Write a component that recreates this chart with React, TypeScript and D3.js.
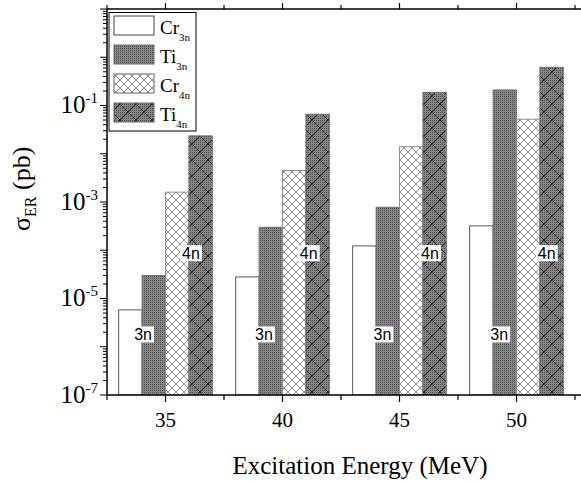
import React from 'react';
import * as d3 from 'd3';

// Excitation energies (MeV) and cross sections (pb) for each channel
const energies = [35, 40, 45, 50];
const cr3n = [5.8e-6, 2.8e-5, 1.23e-4, 3.2e-4];
const ti3n = [3.0e-5, 3.0e-4, 7.8e-4, 0.21];
const cr4n = [1.6e-3, 4.5e-3, 0.014, 0.052];
const ti4n = [0.0235, 0.066, 0.186, 0.62];

// annotation anchors (data units)
const label3nX = [34.04, 39.21, 44.27, 49.26];
const label4nX = [36.09, 41.12, 46.3, 51.29];
const label3nY = 1.8e-6;
const label4nY = 8.7e-5;

const xMajorTicks = [35, 40, 45, 50];
const xMinorTicks = [32.5, 37.5, 42.5, 47.5, 52.5];
const yLabelExps = [-7, -5, -3, -1];

const SERIES = [
  { key: 'cr3n', name: 'Cr', sub: '3n', values: cr3n, offset: -2, fill: '#ffffff', stroke: '#444' },
  { key: 'ti3n', name: 'Ti', sub: '3n', values: ti3n, offset: -1, fill: 'url(#tiDots)', stroke: '#6a6a6a' },
  { key: 'cr4n', name: 'Cr', sub: '4n', values: cr4n, offset: 0, fill: 'url(#crHatch)', stroke: '#888' },
  { key: 'ti4n', name: 'Ti', sub: '4n', values: ti4n, offset: 1, fill: 'url(#tiHatch)', stroke: '#6a6a6a' },
];

const W = 581;
const H = 482;
const margin = { left: 107, top: 9, bottom: 395 };

export default function App() {
  const x = d3.scaleLinear().domain([32.5, 53]).range([margin.left, margin.left + 20.5 * 23.4]);
  const y = d3.scaleLog().domain([1e-7, 10]).range([margin.bottom, margin.top]);

  const yTicks = y.ticks();
  const isMajor = (v: number) => Math.abs(Math.log10(v) - Math.round(Math.log10(v))) < 1e-6;
  const serif = '"Liberation Serif", "Times New Roman", Times, serif';
  const sans = '"Liberation Sans", Arial, Helvetica, sans-serif';

  return (
    <svg width={W} height={H} style={{ position: 'absolute', left: 0, top: 0, background: '#fff' }}>
      <defs>
        <pattern id="tiDots" width="2" height="2" patternUnits="userSpaceOnUse">
          <rect width="2" height="2" fill="#868686" />
          <rect width="1" height="1" fill="#4e4e4e" />
        </pattern>
        <pattern id="crHatch" width="8" height="8" patternUnits="userSpaceOnUse">
          <rect width="8" height="8" fill="#fff" />
          <path d="M-1,-1 L9,9 M9,-1 L-1,9" stroke="#858585" strokeWidth="0.9" />
        </pattern>
        <pattern id="tiHatch" width="16" height="16" patternUnits="userSpaceOnUse">
          <rect width="16" height="16" fill="url(#tiDots)" />
          <path d="M-1,-1 L17,17 M17,-1 L-1,17" stroke="#111" strokeWidth="0.9" />
        </pattern>
        <clipPath id="plotClip">
          <rect x={margin.left} y={margin.top} width={W} height={margin.bottom - margin.top} />
        </clipPath>
      </defs>

      {/* bars */}
      <g clipPath="url(#plotClip)">
        {SERIES.map(s =>
          s.values.map((v, i) => {
            const x0 = x(energies[i] + s.offset);
            const x1 = x(energies[i] + s.offset + 1);
            return (
              <rect
                key={s.key + i}
                x={x0}
                y={y(v)}
                width={x1 - x0}
                height={y(1e-7) - y(v)}
                fill={s.fill}
                stroke={s.stroke}
                strokeWidth={0.9}
              />
            );
          })
        )}
      </g>

      {/* 3n / 4n labels */}
      {energies.map((e, i) => (
        <g key={'lab' + e} fontFamily={sans} fontSize={16}>
          <rect x={x(label3nX[i]) - 11} y={y(label3nY) - 8} width={22} height={16} fill="#fff" />
          <text x={x(label3nX[i])} y={y(label3nY) + 6} textAnchor="middle">3n</text>
          <rect x={x(label4nX[i]) - 11} y={y(label4nY) - 8} width={22} height={16} fill="#fff" />
          <text x={x(label4nX[i])} y={y(label4nY) + 6} textAnchor="middle">4n</text>
        </g>
      ))}

      {/* frame */}
      <line x1={margin.left} x2={W} y1={margin.top} y2={margin.top} stroke="#000" strokeWidth={1.5} />
      <line x1={margin.left} x2={W} y1={margin.bottom} y2={margin.bottom} stroke="#000" strokeWidth={1.5} />
      <line x1={margin.left} x2={margin.left} y1={margin.top} y2={margin.bottom} stroke="#000" strokeWidth={1.5} />

      {/* x ticks */}
      {xMajorTicks.map(t => (
        <g key={'xM' + t}>
          <line x1={x(t)} x2={x(t)} y1={margin.bottom} y2={margin.bottom + 7} stroke="#000" strokeWidth={1.2} />
          <line x1={x(t)} x2={x(t)} y1={margin.top} y2={margin.top - 6} stroke="#000" strokeWidth={1.2} />
          <text x={x(t)} y={427} textAnchor="middle" fontFamily={serif} fontSize={21}>{t}</text>
        </g>
      ))}
      {xMinorTicks.map(t => (
        <g key={'xm' + t}>
          <line x1={x(t)} x2={x(t)} y1={margin.bottom} y2={margin.bottom + 5} stroke="#000" strokeWidth={1.2} />
          <line x1={x(t)} x2={x(t)} y1={margin.top} y2={margin.top - 4} stroke="#000" strokeWidth={1.2} />
        </g>
      ))}

      {/* y ticks */}
      {yTicks.map((t, i) => (
        <line
          key={'y' + i}
          x1={margin.left}
          x2={margin.left - (isMajor(t) ? 7 : 4)}
          y1={y(t)}
          y2={y(t)}
          stroke="#000"
          strokeWidth={1}
        />
      ))}
      {yLabelExps.map(e => (
        <text key={'yl' + e} x={98} y={y(Math.pow(10, e)) + 7.5} textAnchor="end" fontFamily={serif} fontSize={25}>
          10<tspan dy={-10} fontSize={15}>{e < 0 ? '-' + Math.abs(e) : e}</tspan>
        </text>
      ))}

      {/* axis titles */}
      <text x={360} y={474} textAnchor="middle" fontFamily={serif} fontSize={25}>
        Excitation Energy (MeV)
      </text>
      <text transform="translate(30,231) rotate(-90)" fontFamily={serif} fontSize={26}>
        σ<tspan dy={6} fontSize={16}>ER</tspan><tspan dy={-6}> (pb)</tspan>
      </text>

      {/* legend */}
      <g>
        <rect x={109} y={12.5} width={87} height={118.5} fill="#fff" stroke="#000" strokeWidth={1} />
        {SERIES.map((s, i) => {
          const cy = 25.5 + i * 29;
          return (
            <g key={'lg' + s.key}>
              <rect x={114} y={cy - 9.5} width={40} height={19} fill={s.fill} stroke={s.stroke === '#444' ? '#444' : '#666'} strokeWidth={1} />
              <text x={160} y={cy + 8} fontFamily={serif} fontSize={19}>
                {s.name}
                <tspan dy={7} fontSize={11}>{s.sub}</tspan>
              </text>
            </g>
          );
        })}
      </g>
    </svg>
  );
}
